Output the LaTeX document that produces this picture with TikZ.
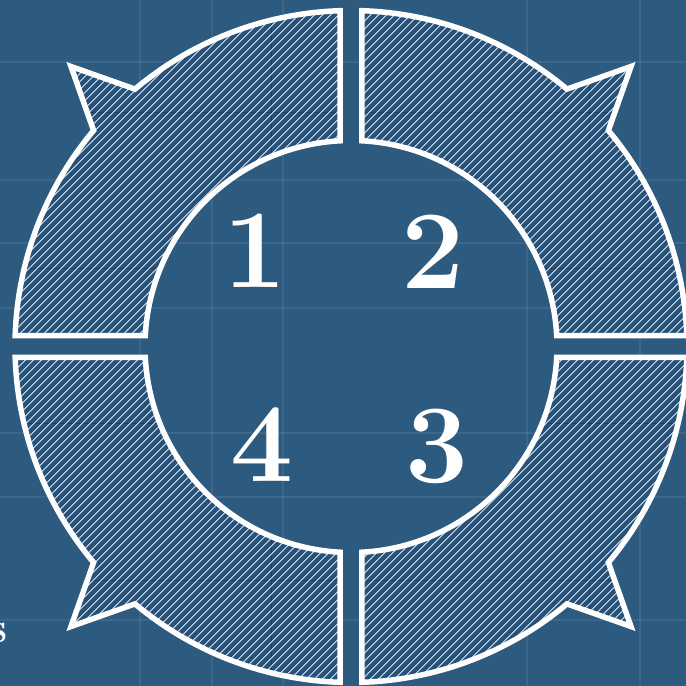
\documentclass[tikz,border=0pt]{standalone}
\usetikzlibrary{calc}
\definecolor{bpbg}{HTML}{2D5A7F}
\definecolor{bpseg}{HTML}{25517A}
\begin{document}
\begin{tikzpicture}[x=1pt,y=1pt,
  outline/.style={draw=white,line width=5.5pt,line join=miter},
  hatchline/.style={white,line width=0.8pt,opacity=0.85},
  gridlight/.style={white,opacity=0.08,line width=1.6pt},
  griddark/.style={black,opacity=0.22,line width=1pt},
  numlabel/.style={text=white,font=\bfseries\fontsize{112}{112}\selectfont,inner sep=0pt},
  seg/.style={insert path={(#1+90-\ao:\Ro) -- (#1+90-\ai:\Ri)
     arc[start angle=#1+90-\ai, end angle=#1+\ai, radius=\Ri]
     -- (#1+\ao:\Ro) arc[start angle=#1+\ao, end angle=#1+40, radius=\Ro]
     -- (#1+45:\Rt) -- (#1+50:\Ro)
     arc[start angle=#1+50, end angle=#1+90-\ao, radius=\Ro] -- cycle}}]
\def\Ri{206}\def\Ro{336}\def\Rt{396}
\pgfmathsetmacro\ai{asin(11/206)}
\pgfmathsetmacro\ao{asin(11/336)}
\fill[bpbg] (-351,-339.5) rectangle (335,346.5);
\useasboundingbox (-351,-339.5) rectangle (335,346.5);
% faint blueprint grid
\foreach \x in {140,212,283,527,640}
  \draw[gridlight] (\x-351,-339.5) -- (\x-351,346.5);
\foreach \y in {62,180,243,308,433,497,620}
  \draw[gridlight] (-351,346.5-\y) -- (335,346.5-\y);
% segments
\foreach \a in {0,90,180,270}{
  \fill[bpseg,seg=\a];
  \begin{scope}
    \clip[seg=\a];
    \foreach \x in {272,589}
      \draw[griddark] (\x-351,-339.5) -- (\x-351,346.5);
    \foreach \y in {113,268,423,580}
      \draw[griddark] (-351,346.5-\y) -- (335,346.5-\y);
    \foreach \k in {-100,...,100}
      \draw[hatchline] (\k*8-400,-400) -- ++(800,800);
  \end{scope}
  \draw[outline,seg=\a];
}
% labels
\node[numlabel] (n1) at (-96,95.5) {1};
\node[numlabel] (n2) at (82,94.5) {2};
\node[numlabel] (n3) at (86,-99.5) {3};
\node[numlabel] (n4) at (-89,-98.5) {4};
\node[text=white,font=\bfseries\fontsize{43}{43}\selectfont,anchor=base east,inner sep=0pt] (s) at (-343,-295.5) {s};
\end{tikzpicture}
\end{document}
